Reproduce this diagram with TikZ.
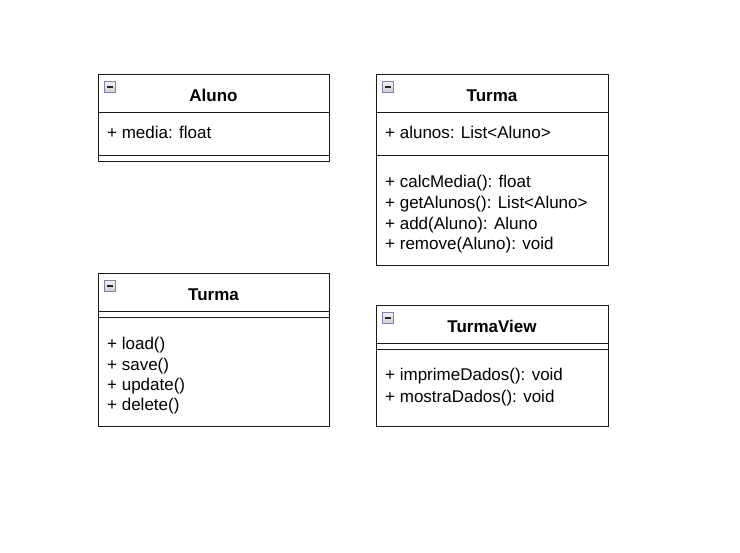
\documentclass[tikz,border=0pt]{standalone}
\usepackage{fontspec}
\setmainfont{Liberation Sans}
\begin{document}
\begin{tikzpicture}[x=1pt,y=-1pt,
  box/.style={draw=black!90,line width=1pt},
  sep/.style={draw=black!90,line width=1pt},
  ttl/.style={font=\fontsize{17}{20}\selectfont\bfseries,anchor=base,inner sep=0pt},
  mem/.style={font=\fontsize{17}{20}\selectfont,anchor=base west,inner sep=0pt},
  icon/.style={draw=gray!75!blue!80,top color=gray!10,bottom color=gray!40,line width=1pt},
  minus/.style={line width=1.3pt,black!85}]
\useasboundingbox (0,0) rectangle (740,553);
\fill[white] (0,0) rectangle (740,553);

% ---- Aluno ----
\draw[box] (98,75) rectangle (329,162);
\draw[sep] (98,113) -- (329,113);
\draw[sep] (98,156) -- (329,156);
\draw[icon] (104.5,81.5) rectangle (115.5,92.5);
\draw[minus] (106.8,87) -- (113.2,87);
\node[ttl] (t1) at (213.5,101.5) {Aluno};
\node[mem] (a1) at (107,139) {+ media: float};

% ---- Turma (model) ----
\draw[box] (376,75) rectangle (608,266);
\draw[sep] (376,113) -- (608,113);
\draw[sep] (376,156) -- (608,156);
\draw[icon] (382.5,81.5) rectangle (393.5,92.5);
\draw[minus] (384.8,87) -- (391.2,87);
\node[ttl] (t2) at (492,101.5) {Turma};
\node[mem] (a2) at (385,139) {+ alunos: List<Aluno>};
\node[mem] (m21) at (385,188) {+ calcMedia(): float};
\node[mem] (m22) at (385,209) {+ getAlunos(): List<Aluno>};
\node[mem] (m23) at (385,229.5) {+ add(Aluno): Aluno};
\node[mem] (m24) at (385,250) {+ remove(Aluno): void};

% ---- Turma (dao) ----
\draw[box] (98,274) rectangle (329,427);
\draw[sep] (98,311.5) -- (329,311.5);
\draw[sep] (98,317.5) -- (329,317.5);
\draw[icon] (104.5,280.5) rectangle (115.5,291.5);
\draw[minus] (106.8,286) -- (113.2,286);
\node[ttl] (t3) at (213.5,300.5) {Turma};
\node[mem] (m31) at (107,349.5) {+ load()};
\node[mem] (m32) at (107,370.5) {+ save()};
\node[mem] (m33) at (107,391) {+ update()};
\node[mem] (m34) at (107,411) {+ delete()};

% ---- TurmaView ----
\draw[box] (376,306) rectangle (608,427);
\draw[sep] (376,344) -- (608,344);
\draw[sep] (376,349.5) -- (608,349.5);
\draw[icon] (382.5,312.5) rectangle (393.5,323.5);
\draw[minus] (384.8,318) -- (391.2,318);
\node[ttl] (t4) at (492,332.5) {TurmaView};
\node[mem] (m41) at (385,381) {+ imprimeDados(): void};
\node[mem] (m42) at (385,402.5) {+ mostraDados(): void};
\end{tikzpicture}
\end{document}
